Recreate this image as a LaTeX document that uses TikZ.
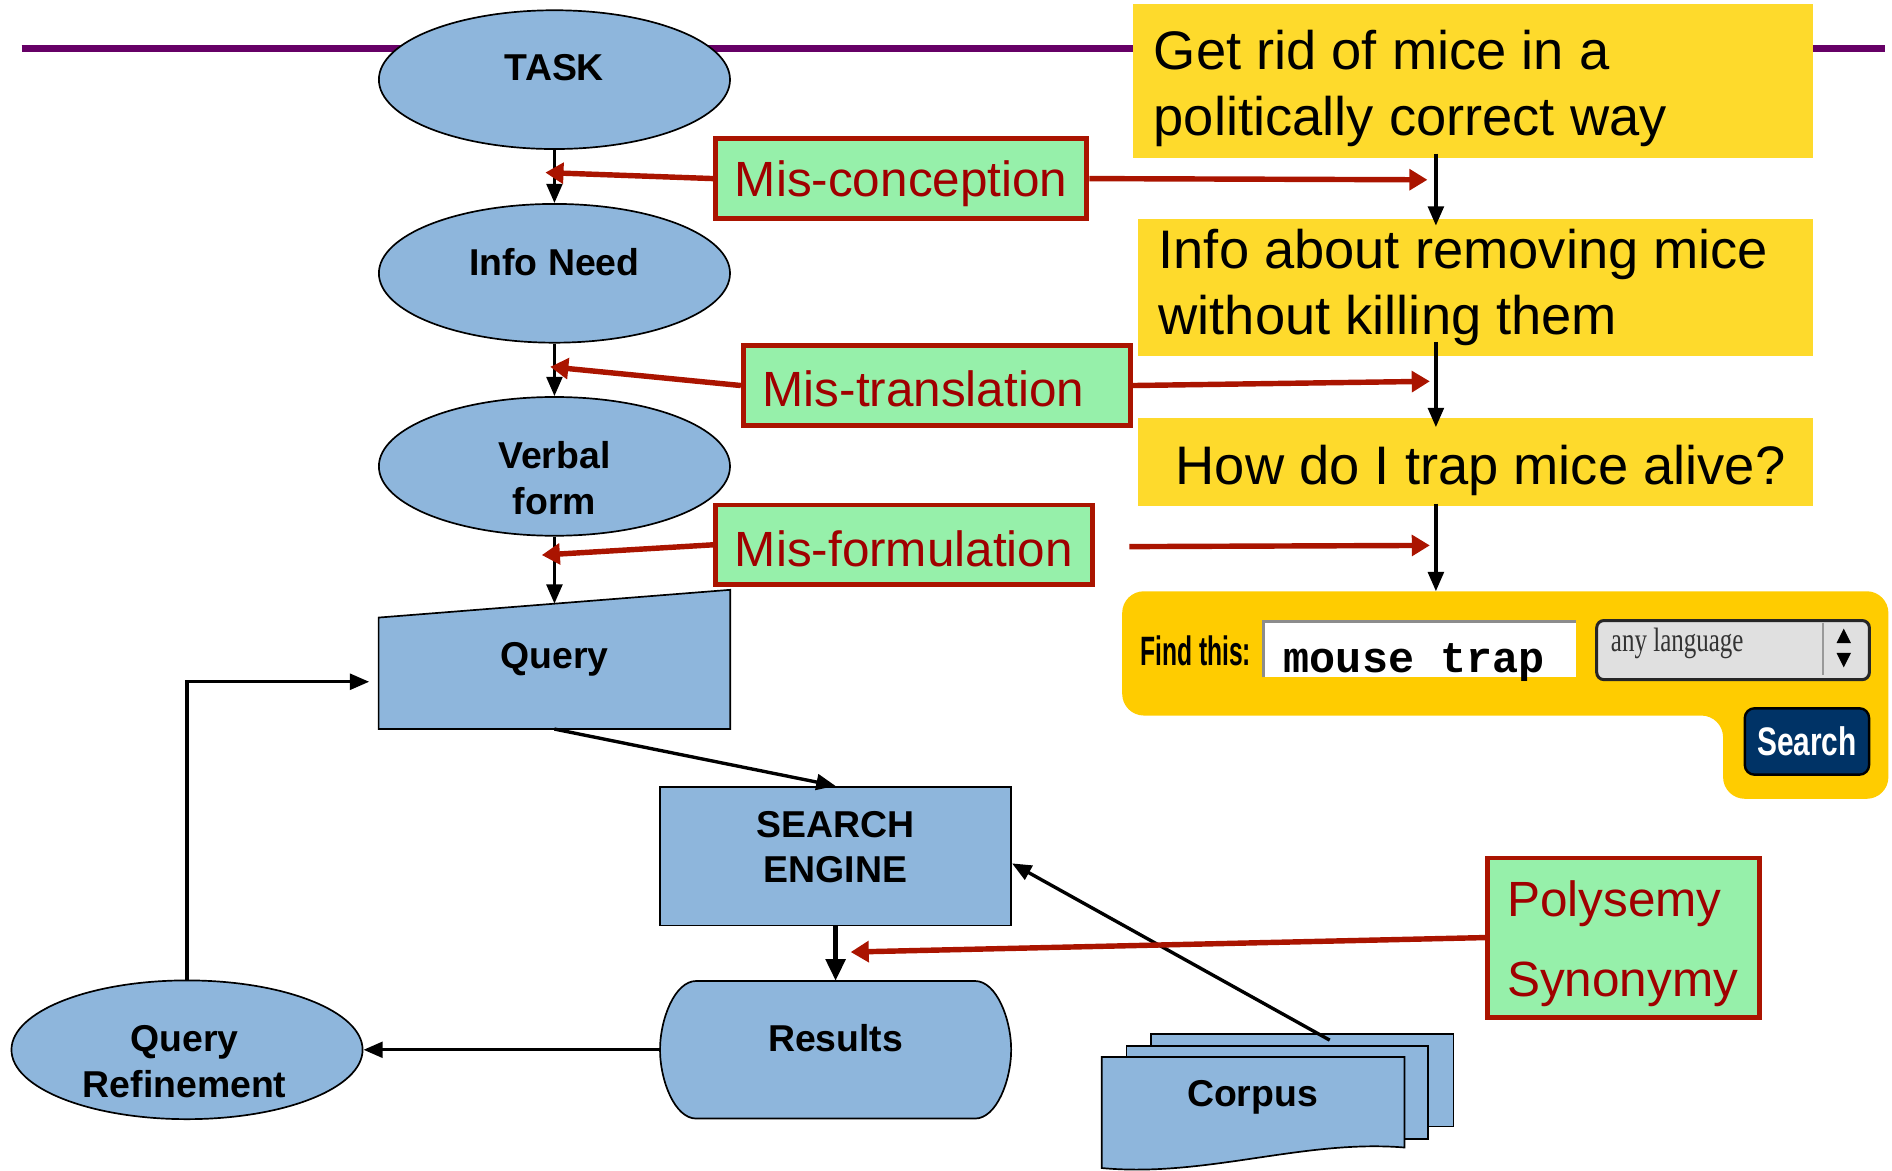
\documentclass[tikz,border=0pt]{standalone}
\usepackage{fontspec}
\setmainfont{Liberation Sans}
\newfontfamily\monofont{Liberation Mono}
\newfontfamily\seriffont{Liberation Serif}
\usetikzlibrary{shapes.geometric,arrows.meta,calc}

\definecolor{shapeblue}{RGB}{142,182,220}
\definecolor{notegold}{RGB}{254,218,44}
\definecolor{panelgold}{RGB}{255,204,0}
\definecolor{errgreen}{RGB}{150,240,170}
\definecolor{errred}{RGB}{170,20,0}
\definecolor{errtext}{RGB}{160,0,0}
\definecolor{rulepurple}{RGB}{102,0,102}
\definecolor{btnnavy}{RGB}{0,51,102}

% lower a line of text without changing the size TeX reports for it
\newcommand{\lowered}[2]{\raisebox{-#1}[\height][\depth]{#2}}

\tikzset{
  flowell/.style={ellipse, draw=black, line width=1.4pt, fill=shapeblue,
    minimum width=291pt, minimum height=115pt, inner sep=0pt},
  flowrect/.style={rectangle, draw=black, line width=1.4pt, fill=shapeblue,
    minimum width=291pt, minimum height=115pt, inner sep=0pt},
  docsheet/.style={rectangle, draw=black, line width=1.4pt, fill=shapeblue,
    anchor=north west, inner sep=0pt},
  flowtxt/.style={font=\fontsize{31}{38}\selectfont\bfseries, align=center, inner sep=0pt},
  note/.style={fill=notegold, anchor=north west, inner sep=0pt},
  notetxt/.style={align=left, inner sep=0pt, font=\fontsize{45}{54.5}\selectfont},
  errbox/.style={draw=errred, line width=4pt, fill=errgreen, text=errtext,
    anchor=west, inner xsep=16pt, inner ysep=0pt, minimum height=66pt,
    font=\fontsize{41}{49}\selectfont},
  flowarrow/.style={draw=black, line width=2.8pt, -{Triangle[length=16pt,width=13pt]}},
  errarrow/.style={draw=errred, line width=4.5pt, -{Triangle[length=15pt,width=17pt]}},
}

\begin{document}
\begin{tikzpicture}[x=1pt, y=-1pt]
\useasboundingbox (0,0) rectangle (1568,970);

% title rule
\draw[rulepurple, line width=6pt] (18,40) -- (1562,40);

% example notes on the right
\node[note, minimum width=563pt, minimum height=128pt] (y1) at (939,3) {};
\node[notetxt, anchor=west] (y1-t) at (956,73.5) {Get rid of mice in a\\politically correct way};
\node[note, minimum width=559pt, minimum height=114pt] (y2) at (943,181) {};
\node[notetxt, anchor=west] (y2-t) at (960,238) {Info about removing mice\\without killing them};
\node[note, minimum width=559pt, minimum height=73pt] (y3) at (943,346) {};
\node[notetxt] (y3-t) at (1227,389.5) {How do I trap mice alive?};

% search form
\fill[panelgold, rounded corners=18pt] (930,490) -- (1565,490) -- (1565,662)
  -- (1428,662) -- (1428,593) -- (930,593) -- cycle;
\coordinate (panel-in) at (1190,490);
\node[font=\fontsize{34}{40}\selectfont\bfseries, inner sep=0pt] (findlbl) at (991,539)
  {\scalebox{0.6}[1]{Find this:}};
\node[fill=white, minimum width=259pt, minimum height=46pt, inner sep=0pt,
  anchor=north west] (field) at (1047,515) {};
\draw[black!45, line width=2pt] (field.south west) -- (field.north west) -- (field.north east);
\node[font=\fontsize{36}{40}\selectfont\monofont\bfseries, inner sep=0pt] (fieldtxt) at (1172,549)
  {mouse trap};
\node[draw=black!85, line width=2.5pt, fill=black!12, rounded corners=6pt,
  minimum width=226pt, minimum height=49pt, anchor=north west, inner sep=0pt] (lang) at (1322,513) {};
\draw[black!40, line width=1.5pt] (1511,516) -- (1511,559);
\fill (1522,533) -- (1534,533) -- (1528,521) -- cycle;
\fill (1522,541) -- (1534,541) -- (1528,553) -- cycle;
\node[font=\fontsize{28}{32}\selectfont\seriffont, inner sep=0pt, text=black!80] (langtxt) at (1390,533)
  {\scalebox{0.74}[1]{any language}};
\node[draw=black, line width=2pt, fill=btnnavy, rounded corners=8pt, minimum width=103pt,
  minimum height=55pt, anchor=north west, inner sep=0pt] (btn) at (1445,586) {};
\node[text=white, font=\fontsize{33}{38}\selectfont\bfseries, inner sep=0pt] (btntxt) at (btn)
  {\scalebox{0.75}[1]{Search}};

% flow of the search process
\node[flowell, label={[flowtxt, yshift=10pt]center:TASK}] (task) at (459.5,66) {};
\node[flowell, label={[flowtxt, yshift=9.5pt]center:Info Need}] (infon) at (459.5,226.5) {};
\node[flowell, label={[flowtxt, yshift=-10pt]center:{Verbal\\form}}] (verbal) at (459.5,386.5) {};

\node[rectangle, minimum width=291pt, minimum height=115pt, inner sep=0pt] (query) at (459.5,546.5) {};
\draw[line width=1.4pt, fill=shapeblue] ($(query.north west)+(0,23)$) -- (query.north east)
  -- (query.south east) -- (query.south west) -- cycle;
\node[flowtxt] (query-t) at (query) {Query};

\node[flowrect, label={[flowtxt, yshift=7.5pt]center:{SEARCH\\ENGINE}}] (se) at (692.5,709.5) {};

\node[rectangle, minimum width=291pt, minimum height=114pt, inner sep=0pt] (results) at (692.5,870) {};
\draw[line width=1.4pt, fill=shapeblue] (577,813) -- (808,813)
  .. controls (826,813) and (838,845) .. (838,870)
  .. controls (838,895) and (826,927) .. (808,927) -- (577,927)
  .. controls (559,927) and (547,895) .. (547,870)
  .. controls (547,845) and (559,813) .. (577,813) -- cycle;
\node[flowtxt] (results-t) at (692.5,860) {Results};

\node[flowell, label={[flowtxt, yshift=-10pt, xshift=-2pt]center:{Query\\Refinement}}] (qr) at (155,870) {};

% document stack
\node[docsheet, minimum width=251pt, minimum height=77pt] (corpus3) at (953,856) {};
\node[docsheet, minimum width=250pt, minimum height=77pt] (corpus2) at (933,866) {};
\draw[line width=1.4pt, fill=shapeblue] (913,876) -- (1164,876) -- (1164,951)
  .. controls (1080,944) and (1000,976) .. (913,968) -- cycle;
\node[flowtxt] (corpus) at (1038,909) {Corpus};

% error labels
\node[errbox, minimum width=307pt] (misc) at (591,148) {\lowered{4pt}{Mis-conception}};
\node[errbox, text width=289pt, align=left] (mist) at (614,319.5) {\lowered{3pt}{Mis-translation}};
\node[errbox, minimum width=312pt] (misf) at (591,451.5) {\lowered{3pt}{Mis-formulation}};
\node[errbox, anchor=north west, minimum width=225pt, minimum height=132pt, text width=193pt,
  align=left, inner xsep=16pt, font=\fontsize{41}{66}\selectfont] (poly) at (1231,709)
  {\lowered{5pt}{Polysemy}\\\lowered{5pt}{Synonymy}};

% black connectors
\coordinate (col) at (1190,0);
\coordinate (qin) at (306,565);
\draw[flowarrow] (task) -- (infon);
\draw[flowarrow] (infon) -- (verbal);
\draw[flowarrow] (verbal.south) -- ($(query.north)+(0,11.5)$);
\draw[flowarrow] (query.south) -- (se.north);
\draw[flowarrow, line width=4pt, -{Triangle[length=18pt,width=16pt]}] (se.south) -- (results.north);
\draw[flowarrow] (results.west) -- (qr.east);
\draw[flowarrow] (qr.north) |- (qin);
\draw[flowarrow] ($(corpus3.north west)+(149,6)$) -- ($(se.east)+(0,6)$);

\draw[flowarrow] ($(y1.south -| col)+(0,-4)$) -- ($(y2.north -| col)+(0,6)$);
\draw[flowarrow] ($(y2.south -| col)+(0,-12)$) -- ($(y3.north -| col)+(0,8)$);
\draw[flowarrow] ($(y3.south -| col)+(0,-2)$) -- (panel-in);

% red connectors
\coordinate (mc-l) at (452,143);
\coordinate (mc-r) at (1183,149);
\coordinate (mt-l) at (456,304);
\coordinate (mt-r) at (1185,316);
\coordinate (mf-l) at (449,460);
\coordinate (mf-a) at (936,453);
\coordinate (mf-r) at (1185,452);
\coordinate (ps-l) at (705,789);
\draw[errarrow] (misc.west) -- (mc-l);
\draw[errarrow] (misc.east) -- (mc-r);
\draw[errarrow] (mist.west) -- (mt-l);
\draw[errarrow] (mist.east) -- (mt-r);
\draw[errarrow] (misf.west) -- (mf-l);
\draw[errarrow] (mf-a) -- (mf-r);
\draw[errarrow] (poly.west) -- (ps-l);
\end{tikzpicture}
\end{document}
